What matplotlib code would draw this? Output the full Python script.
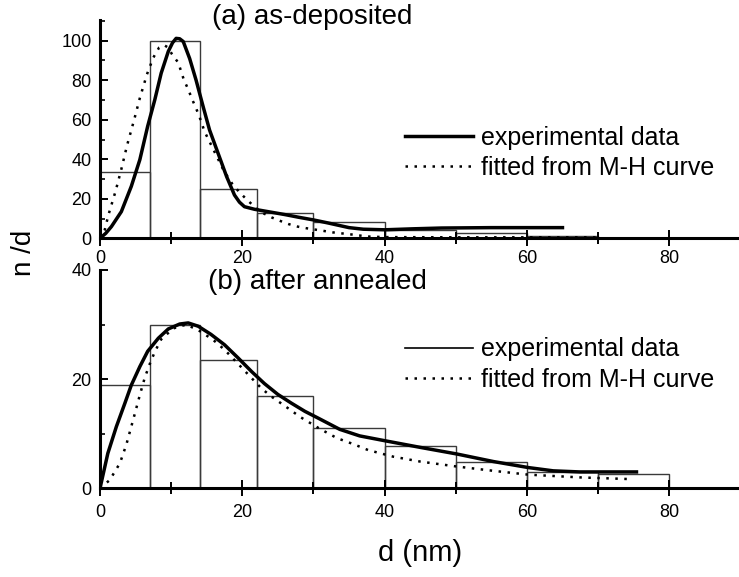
import matplotlib.pyplot as plt
from matplotlib.ticker import MultipleLocator

plt.rcParams['font.family'] = ['Liberation Sans', 'DejaVu Sans']

# histogram bins (nm) and bar heights
edges_a = [0, 7, 14, 22, 30, 40, 50, 60, 70]
hist_a = [33.7, 100, 25, 12.6, 8.4, 4.4, 2.9, 1.1]
edges_b = [0, 7, 14, 22, 30, 40, 50, 60, 70, 80]
hist_b = [18.9, 30, 23.6, 16.9, 11.1, 7.7, 4.9, 3.0, 2.7]

# (a) as-deposited: experimental curve
exp_a_x = [0, 0.8, 1.6, 3.0, 4.4, 5.6, 6.7, 7.7, 8.6, 9.6, 10.2, 10.7, 11.2, 11.7,
           12.6, 13.5, 14.5, 15.4, 16.6, 17.8, 18.9, 19.6, 20.3, 21.7, 23.6, 26,
           28, 30, 32, 35, 37, 40, 44, 48, 55, 65]
exp_a_y = [0, 2.5, 5.9, 13.5, 26.3, 39.8, 56.7, 70.1, 83.6, 94.6, 99, 101.2, 101, 99.6,
           91.0, 80.1, 66.6, 54.8, 43.0, 31.2, 21.9, 18.3, 16.0, 14.7, 13.5, 12,
           10.6, 9.3, 7.8, 5.4, 4.6, 4.3, 4.8, 5.2, 5.4, 5.4]

# (a) fitted from M-H curve
fit_a_x = [0, 0.66, 1.2, 2.2, 3.0, 3.8, 4.8, 5.6, 6.6, 7.5, 8.3, 9.0, 9.6, 10.1,
           11.0, 11.8, 12.4, 12.9, 13.9, 14.7, 15.9, 17.4, 18.6, 19.6, 20.8, 22.5,
           24.1, 25.4, 26.5, 27.8, 29, 31.5, 32.7, 35.2, 37.6, 40, 50, 60, 70]
fit_a_y = [0, 4.2, 12, 24, 35, 47, 60, 71, 83, 91.5, 96.5, 97.8, 96.5, 93.3,
           88.9, 80.1, 75.4, 70.8, 62.4, 54.0, 45.2, 34.2, 27.5, 23.3, 19.0, 13.5,
           10.6, 8.7, 7.2, 5.9, 5.1, 3.7, 3.0, 2.0, 0.9, 0.6, 0.5, 0.5, 0.5]

# (b) after annealed: experimental curve
exp_b_x = [0, 1.1, 2.3, 3.5, 4.4, 5.6, 6.7, 8.2, 9.6, 11.2, 12.4, 13.8, 15.6, 17.5,
           19.4, 21.3, 23.1, 25.0, 26.9, 28.8, 30.6, 33.7, 36.5, 40.1, 45, 50.1,
           55.3, 60.2, 63.7, 67.4, 75.4]
exp_b_y = [0, 6.4, 11.3, 15.6, 18.9, 22.3, 25.1, 27.5, 29.2, 30.1, 30.3, 29.7, 28.2, 26.3,
           23.9, 21.4, 19.2, 17.2, 15.6, 14.1, 12.9, 10.8, 9.6, 8.7, 7.5, 6.3,
           4.9, 3.8, 3.2, 3.0, 3.0]

# (b) fitted from M-H curve
fit_b_x = [0, 1.36, 2.8, 3.7, 4.9, 5.6, 6.3, 7.0, 7.7, 8.6, 10.3, 12.1, 13.8, 15.9,
           17.5, 18.9, 21.3, 22.7, 24.1, 26.4, 28.1, 30.9, 33.3, 35.6, 37.7, 41.2,
           45, 50.1, 55.3, 60.2, 67.4, 74.2]
fit_b_y = [0, 1.5, 4.6, 8.0, 13.7, 17.1, 20.3, 22.8, 25.0, 27.3, 29.3, 30.0, 29.0, 27.2,
           25.4, 23.5, 20.2, 18.3, 16.8, 14.7, 13.1, 10.9, 9.2, 8.1, 7.0, 5.8,
           4.9, 4.0, 3.2, 2.5, 2.0, 1.7]

fig = plt.figure(figsize=(7.39, 5.77), dpi=100)
ax_a = fig.add_axes([100 / 739, (577 - 238.3) / 577, 639 / 739, 218.3 / 577])
ax_b = fig.add_axes([100 / 739, (577 - 488.3) / 577, 639 / 739, 218.3 / 577])

dots = (0, (1, 2.6))


def draw_panel(ax, edges, heights, ex, ey, fx, fy, ymax, ymajor, legend_y, legend_lw):
    widths = [edges[i + 1] - edges[i] for i in range(len(heights))]
    ax.bar(edges[:-1], heights, width=widths, align='edge', fill=False,
           edgecolor='#3a3a3a', linewidth=1.0)
    ax.plot(ex, ey, color='black', lw=2.5, label='experimental data')
    ax.plot(fx, fy, color='black', lw=1.8, linestyle=dots, label='fitted from M-H curve')

    ax.set_xlim(0, 639 / 7.115)
    ax.set_ylim(0, ymax)
    ax.xaxis.set_major_locator(MultipleLocator(20))
    ax.xaxis.set_minor_locator(MultipleLocator(10))
    ax.yaxis.set_major_locator(MultipleLocator(ymajor))
    ax.yaxis.set_minor_locator(MultipleLocator(10))

    for side in ['top', 'right']:
        ax.spines[side].set_visible(False)
    for side in ['left', 'bottom']:
        ax.spines[side].set_linewidth(2.2)

    ax.tick_params(axis='x', which='major', direction='inout', length=11.5, width=1.4,
                   labelsize=13)
    ax.tick_params(axis='x', which='minor', direction='inout', length=8, width=1.4)
    ax.tick_params(axis='y', which='major', direction='in', length=6, width=1.4,
                   labelsize=13, pad=6)
    ax.tick_params(axis='y', which='minor', direction='in', length=3.5, width=1.2)

    leg = ax.legend(loc='center left', bbox_to_anchor=(405 / 739, 1 - legend_y / 577),
                    bbox_transform=fig.transFigure, frameon=False, fontsize=18,
                    handlelength=2.7, handletextpad=0.35, labelspacing=0.25,
                    borderpad=0, borderaxespad=0)
    leg.get_lines()[0].set_linewidth(legend_lw)


draw_panel(ax_a, edges_a, hist_a, exp_a_x, exp_a_y, fit_a_x, fit_a_y, 110.5, 20, 153, 2.5)
draw_panel(ax_b, edges_b, hist_b, exp_b_x, exp_b_y, fit_b_x, fit_b_y, 40, 20, 364.5, 1.2)
ax_a.tick_params(axis='x', which='major', pad=2.5)
ax_b.tick_params(axis='x', which='major', pad=5.5)

# titles and axis labels
fig.text(312 / 739, 1 - 17 / 577, '(a) as-deposited', fontsize=20, ha='center', va='center')
fig.text(317.5 / 739, 1 - 282 / 577, '(b) after annealed', fontsize=20, ha='center', va='center')
fig.text(24 / 739, 1 - 253 / 577, 'n /d', fontsize=20, rotation=90, ha='center', va='center')
fig.text(420 / 739, 1 - 553 / 577, 'd (nm)', fontsize=21, ha='center', va='center')

fig.savefig('out.png', dpi=100)
